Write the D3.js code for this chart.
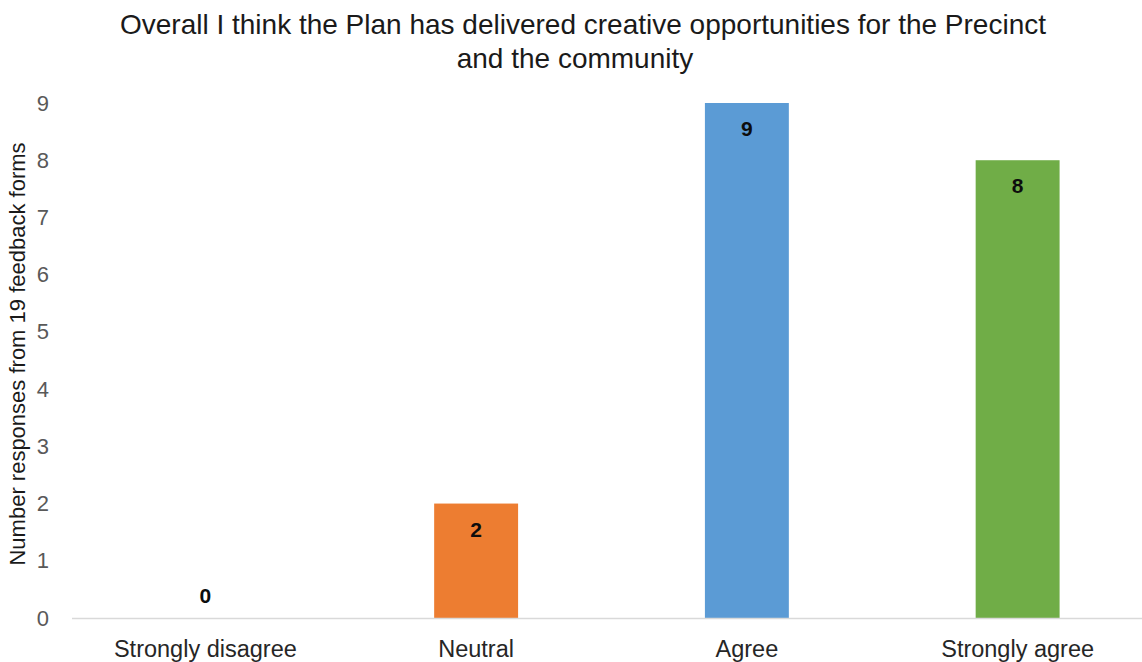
<!DOCTYPE html>
<html>
<head>
<meta charset="utf-8">
<script src="https://cdn.jsdelivr.net/npm/d3@7"></script>
<style>
  html, body { margin: 0; padding: 0; background: #fff; }
  svg { display: block; font-family: "Liberation Sans", Arial, sans-serif; }
</style>
</head>
<body>
<svg id="chart" width="1142" height="662"></svg>
<script>
// Survey responses per answer option
const categories = ["Strongly disagree", "Neutral", "Agree", "Strongly agree"];
const responses = [0, 2, 9, 8];
const barColors = ["#4472c4", "#ed7d31", "#5b9bd5", "#70ad47"];
const yTicks = [0, 1, 2, 3, 4, 5, 6, 7, 8, 9];
const titleLines = ["Overall I think the Plan has delivered creative opportunities for the Precinct", "and the community"];
const yAxisTitle = "Number responses from 19 feedback forms";

const svg = d3.select("#chart");
const W = 1142, H = 662;
const plot = { left: 70, right: 1153, top: 103, bottom: 618 };

const x = d3.scaleBand()
  .domain(categories)
  .range([plot.left, plot.right])
  .paddingInner(0.69)
  .paddingOuter(0.345);

const y = d3.scaleLinear()
  .domain([0, 9])
  .range([plot.bottom, plot.top]);

// Title
svg.append("g")
  .selectAll("text")
  .data(titleLines)
  .join("text")
  .attr("x", (d, i) => i === 0 ? 583 : 575)
  .attr("y", (d, i) => 34 + i * 34)
  .attr("text-anchor", "middle")
  .attr("font-size", 28)
  .attr("fill", "#1a1a1a")
  .text(d => d);

// Y axis labels (no axis line)
const yAxis = svg.append("g")
  .attr("transform", `translate(${plot.left},0)`)
  .call(d3.axisLeft(y).tickValues(yTicks).tickSize(0).tickPadding(21).tickFormat(d3.format("d")));
yAxis.select(".domain").remove();
yAxis.selectAll("text")
  .attr("font-size", 22)
  .attr("fill", "#595959")
  .attr("font-family", "Liberation Sans, Arial, sans-serif");

// Y axis title
svg.append("text")
  .attr("transform", `translate(25,354) rotate(-90)`)
  .attr("text-anchor", "middle")
  .attr("font-size", 22)
  .attr("fill", "#1a1a1a")
  .text(yAxisTitle);

// Bars
svg.append("g")
  .selectAll("rect")
  .data(categories)
  .join("rect")
  .attr("x", d => x(d))
  .attr("width", x.bandwidth())
  .attr("y", (d, i) => y(responses[i]))
  .attr("height", (d, i) => y(0) - y(responses[i]))
  .attr("fill", (d, i) => barColors[i]);

// Baseline
svg.append("line")
  .attr("x1", plot.left + 2)
  .attr("x2", W)
  .attr("y1", y(0) + 0.5)
  .attr("y2", y(0) + 0.5)
  .attr("stroke", "#d9d9d9")
  .attr("stroke-width", 1.5);

// X axis labels
svg.append("g")
  .selectAll("text")
  .data(categories)
  .join("text")
  .attr("x", d => x(d) + x.bandwidth() / 2)
  .attr("y", 657)
  .attr("text-anchor", "middle")
  .attr("font-size", 23.5)
  .attr("fill", "#262626")
  .text(d => d);

// Value labels
svg.append("g")
  .selectAll("text")
  .data(categories)
  .join("text")
  .attr("x", d => x(d) + x.bandwidth() / 2)
  .attr("y", (d, i) => responses[i] === 0 ? y(0) - 15 : y(responses[i]) + 33)
  .attr("text-anchor", "middle")
  .attr("font-size", 21)
  .attr("font-weight", "bold")
  .attr("fill", "#0d0d0d")
  .text((d, i) => responses[i]);
</script>
</body>
</html>
